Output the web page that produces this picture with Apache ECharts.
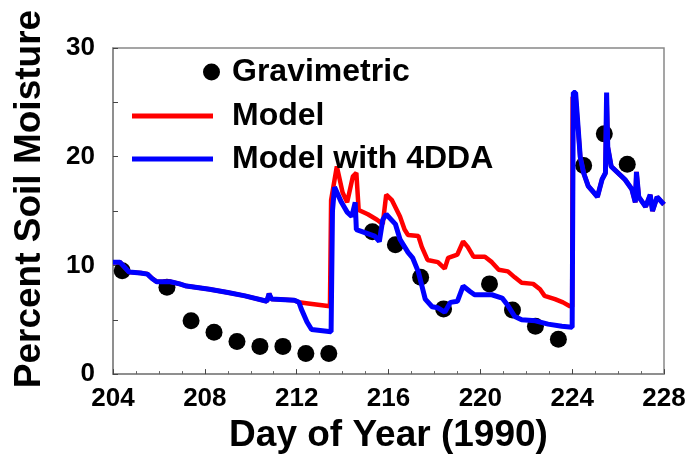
<!DOCTYPE html>
<html>
<head>
<meta charset="utf-8">
<script src="https://cdn.jsdelivr.net/npm/echarts@6/dist/echarts.min.js"></script>
<style>
  html, body { margin: 0; padding: 0; background: #fff; }
  #chart { width: 698px; height: 459px; }
</style>
</head>
<body>
<div id="chart"></div>
<script>
// 重量法测得的土壤湿度 (Gravimetric)
const gravDays = [204.4, 206.35, 207.4, 208.4, 209.4, 210.4, 211.4, 212.4, 213.4, 215.3, 216.3, 217.4, 218.4, 220.4, 221.4, 222.4, 223.4, 224.5, 225.4, 226.4];
const gravValues = [9.5, 8.0, 4.9, 3.85, 3.0, 2.55, 2.55, 1.9, 1.9, 13.1, 11.9, 8.9, 6.0, 8.3, 5.9, 4.4, 3.2, 19.2, 22.1, 19.3];

// Model with 4DDA (蓝线)
const ddaDays = [204.0, 204.3, 204.7, 205.2, 205.5, 205.7, 205.9, 206.5, 206.9, 207.2, 208.2, 209.0, 209.75, 210.7, 210.8, 210.9, 211.9, 212.1, 212.2, 212.45, 212.65, 213.5,
  213.56, 213.65, 213.95, 214.2, 214.4, 214.55, 214.6, 215.0, 215.4, 215.6, 215.75, 215.9, 216.3, 216.5, 216.85, 217.05, 217.3, 217.6, 217.9, 218.15, 218.45, 218.7, 219.0,
  219.25, 219.55, 219.75, 220.5, 220.95, 221.2, 221.5, 221.8, 222.4, 222.95, 223.55, 224.0,
  224.05, 224.15, 224.35, 224.5, 224.7, 224.9, 225.1, 225.3, 225.45, 225.5, 225.55, 225.7, 226.0, 226.3, 226.6, 226.75, 226.8, 226.9, 227.2, 227.4, 227.5, 227.7, 228.0];
const ddaValues = [10.3, 10.3, 9.4, 9.3, 9.2, 8.8, 8.5, 8.5, 8.3, 8.1, 7.8, 7.5, 7.2, 6.7, 7.4, 6.9, 6.8, 6.6, 6.0, 4.8, 4.1, 3.9,
  15.0, 17.2, 15.8, 14.9, 14.5, 15.8, 13.3, 13.0, 12.7, 12.2, 14.2, 14.7, 13.8, 12.4, 11.2, 10.7, 9.4, 6.9, 6.2, 6.1, 5.7, 6.6, 6.7,
  8.1, 7.6, 7.3, 7.3, 7.0, 6.3, 5.3, 5.0, 4.9, 4.6, 4.4, 4.3,
  25.9, 25.9, 20.0, 18.5, 17.3, 16.8, 16.3, 17.9, 18.5, 25.9, 20.9, 19.1, 18.5, 17.9, 17.0, 15.8, 18.6, 16.3, 15.4, 16.5, 15.0, 16.3, 15.6];

// Model (红线)
const modelDays = [204.0, 204.3, 204.7, 205.2, 205.5, 205.7, 205.9, 206.5, 206.9, 207.2, 208.2, 209.0, 209.75, 210.7, 210.8, 210.9, 211.9, 212.1, 212.5, 213.45,
  213.5, 213.75, 214.0, 214.2, 214.45, 214.6, 214.7, 215.1, 215.5, 215.75, 215.9, 216.15, 216.5, 216.7, 216.85, 217.3, 217.45, 217.7, 218.15, 218.45, 218.6, 219.0,
  219.25, 219.45, 219.7, 220.2, 220.5, 220.8, 221.2, 221.5, 221.8, 222.3, 222.6, 222.8, 223.25, 223.6, 223.9, 224.0,
  224.02, 224.15, 224.35, 224.5, 224.7, 224.9, 225.1, 225.3, 225.45, 225.5, 225.55, 225.7, 226.0, 226.3, 226.6, 226.75, 226.8, 226.9, 227.2, 227.4, 227.5, 227.7, 228.0];
const modelValues = [10.3, 10.3, 9.4, 9.3, 9.2, 8.8, 8.5, 8.5, 8.3, 8.1, 7.8, 7.5, 7.2, 6.7, 7.4, 6.9, 6.8, 6.6, 6.5, 6.25,
  16.0, 19.1, 16.7, 15.8, 18.2, 18.5, 15.1, 14.7, 14.2, 13.8, 16.5, 16.0, 14.5, 13.3, 12.8, 12.7, 11.7, 10.5, 10.3, 9.7, 10.7, 11.0,
  12.2, 11.7, 10.8, 10.8, 10.3, 9.6, 9.45, 8.9, 8.4, 8.3, 7.8, 7.2, 6.9, 6.6, 6.25, 6.2,
  25.5, 25.5, 20.0, 18.5, 17.3, 16.8, 16.3, 17.9, 18.5, 25.5, 20.9, 19.1, 18.5, 17.9, 17.0, 15.8, 18.6, 16.3, 15.4, 16.5, 15.0, 16.3, 15.6];

const xTicks = { min: 204, max: 228, interval: 4 };
const yTicks = { min: 0, max: 30, interval: 10 };

const zip = (xs, ys) => xs.map((x, i) => [x, ys[i]]);

const FONT = '"Liberation Sans", Arial, Helvetica, sans-serif';

// 初始化图表
const chart = echarts.init(document.getElementById('chart'), null, { renderer: 'canvas' });

const legendText = {
  fontFamily: FONT,
  fontWeight: 'bold',
  fontSize: 32,
  color: '#000'
};

const option = {
  animation: false,
  backgroundColor: '#fff',
  grid: {
    left: 113,
    right: 34,
    top: 48,
    bottom: 84,
    show: true,
    borderColor: '#888',
    borderWidth: 1.5
  },
  legend: [
    {
      data: ['Gravimetric'],
      left: 203,
      top: 56,
      padding: 0,
      icon: 'circle',
      itemWidth: 17,
      itemHeight: 17,
      textStyle: Object.assign({ padding: [0, 0, 0, 7] }, legendText)
    },
    {
      data: ['Model'],
      left: 132,
      top: 100,
      padding: 0,
      icon: 'rect',
      itemWidth: 81,
      itemHeight: 5,
      textStyle: Object.assign({ padding: [0, 0, 0, 14] }, legendText)
    },
    {
      data: ['Model with 4DDA'],
      left: 132,
      top: 143,
      padding: 0,
      icon: 'rect',
      itemWidth: 81,
      itemHeight: 5,
      textStyle: Object.assign({ padding: [0, 0, 0, 14] }, legendText)
    }
  ],
  xAxis: {
    type: 'value',
    min: xTicks.min,
    max: xTicks.max,
    interval: xTicks.interval,
    name: 'Day of Year (1990)',
    nameLocation: 'middle',
    nameGap: 42,
    nameTextStyle: { fontFamily: FONT, fontWeight: 'bold', fontSize: 37, color: '#000' },
    axisLine: { lineStyle: { color: '#888', width: 1.5 } },
    axisTick: { inside: true, length: 5, lineStyle: { color: '#444' } },
    minorTick: { show: true, splitNumber: 4, length: 3, lineStyle: { color: '#666' } },
    splitLine: { show: false },
    axisLabel: { fontFamily: FONT, fontWeight: 'bold', fontSize: 26, color: '#000', margin: 12 }
  },
  yAxis: {
    type: 'value',
    min: yTicks.min,
    max: yTicks.max,
    interval: yTicks.interval,
    name: 'Percent Soil Moisture',
    nameLocation: 'middle',
    nameGap: 65,
    nameTextStyle: { fontFamily: FONT, fontWeight: 'bold', fontSize: 37, color: '#000', padding: [0, 0, 0, 24] },
    axisLine: { show: true, lineStyle: { color: '#888', width: 1.5 } },
    axisTick: { show: true, inside: true, length: 5, lineStyle: { color: '#444' } },
    minorTick: { show: true, splitNumber: 2, length: 5, lineStyle: { color: '#444' } },
    splitLine: { show: false },
    axisLabel: { fontFamily: FONT, fontWeight: 'bold', fontSize: 26, color: '#000', margin: 18 }
  },
  series: [
    {
      name: 'Gravimetric',
      type: 'scatter',
      symbol: 'circle',
      symbolSize: 17,
      itemStyle: { color: '#000', opacity: 1 },
      data: zip(gravDays, gravValues),
      z: 1
    },
    {
      name: 'Model',
      type: 'line',
      showSymbol: false,
      itemStyle: { color: '#ff0000' },
      lineStyle: { color: '#ff0000', width: 4.5 },
      data: zip(modelDays, modelValues),
      z: 2
    },
    {
      name: 'Model with 4DDA',
      type: 'line',
      showSymbol: false,
      itemStyle: { color: '#0000ff' },
      lineStyle: { color: '#0000ff', width: 5 },
      data: zip(ddaDays, ddaValues),
      z: 3
    }
  ]
};

// 渲染图表
chart.setOption(option);
</script>
</body>
</html>
